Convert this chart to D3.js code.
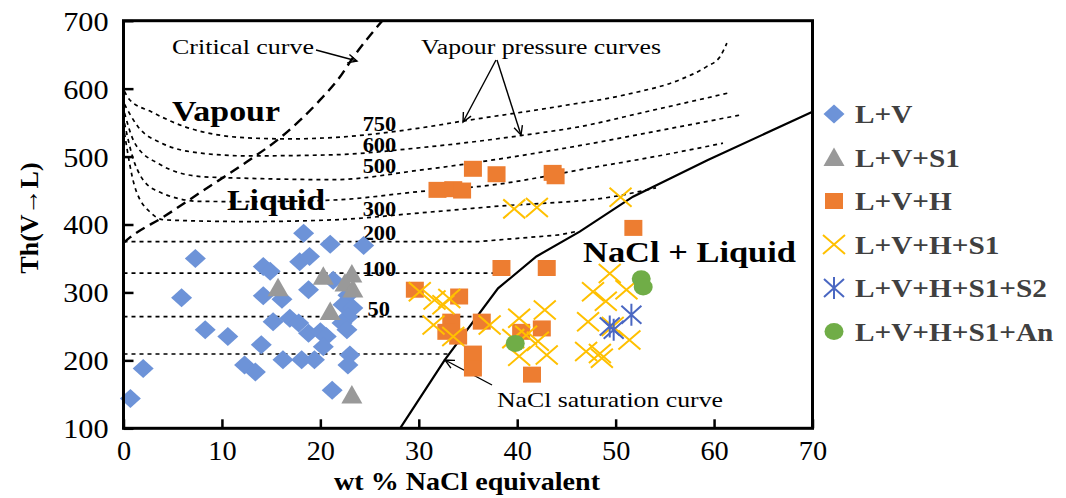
<!DOCTYPE html>
<html><head><meta charset="utf-8">
<script src="https://cdn.jsdelivr.net/npm/d3@7/dist/d3.min.js"></script>
<style>body{margin:0;background:#fff}svg{display:block}</style>
</head><body>
<svg id="c" width="1066" height="498"></svg>
<script>
// ---------- data ----------
const xTicks = [0,10,20,30,40,50,60,70];
const yTicks = [100,200,300,400,500,600,700];
const seriesNames = ["L+V","L+V+S1","L+V+H","L+V+H+S1","L+V+H+S1+S2","L+V+H+S1+An"];

const lv = [[18.3,387],[21.0,371],[24.4,369],[7.3,350],[17.9,345],[18.9,353],[14.2,338],[14.9,331],[21.3,318],[5.9,292],[18.8,304],[14.2,295],[16.1,290],[22.8,296],[22.3,282],[23.3,277],[22.8,264],[22.2,255],[15.2,257],[16.9,262],[17.8,255],[8.3,245],[10.6,235],[18.8,240],[20.0,242],[20.6,235],[22.7,245],[14.0,223],[20.3,220],[2.0,188],[12.3,193],[13.4,183],[16.2,201],[18.1,201],[19.4,201],[23.0,208],[22.8,193],[0.7,144],[21.2,156]];
const lvs1 = [[15.7,307],[20.3,324],[23.2,327],[22.5,314],[23.3,305],[21.0,272],[23.2,149]];
const lvh = [[35.5,482],[37.9,474],[31.9,451],[33.5,452],[34.4,450],[43.6,476],[43.9,471],[51.8,395],[38.4,336],[43.0,336],[29.6,304],[34.1,294],[33.3,257],[32.8,242],[34.0,235],[36.4,257],[40.4,242],[42.5,247],[35.5,210],[35.5,188],[41.5,179]];
const lvhs1 = [[39.7,423],[42.0,425],[50.5,440],[30.1,301],[31.6,289],[32.5,282],[33.1,291],[31.5,252],[33.5,235],[37.2,252],[40.2,262],[42.8,274],[39.6,232],[40.9,237],[42.1,228],[40.2,206],[43.0,208],[47.7,301],[49.4,328],[51.1,304],[49.0,287],[47.2,257],[51.4,230],[47.0,213],[48.4,210],[48.6,203],[49.7,250]];
const lvhs1s2 = [[49.4,250],[49.8,245],[51.6,267]];
const lvhs1an = [[39.8,225],[52.6,320],[52.8,308]];

const criticalCurve = [[0,373],[0.66,381],[4.04,411],[8.1,450],[12.5,492],[16.2,531],[19.95,583],[21.98,617],[23.33,646],[26.3,700]];
const saturationCurve = [[28.1,100],[32.64,200.6],[38.05,306],[41.95,353],[46.35,389.5],[51.76,441],[59.37,495],[70,566]];
const vp750 = [[0.1,596],[0.6,584],[2.82,566],[6.21,544],[9.59,532],[12.64,527.5],[17,526],[21.27,528],[30.1,542],[34.16,551.5],[44.3,574],[51.3,592],[56.5,613],[59.2,632],[60.6,647],[61.3,667]];
const vp600 = [[0.1,577],[1.47,544],[3.84,520],[7.9,505],[12.64,501],[21.27,502.6],[30.1,513],[40.93,532],[46.35,544],[53.1,566],[61.4,593.4]];
const vp500 = [[0.1,564],[1.14,520],[3.5,490],[7.9,470.5],[12.64,468],[21.27,466],[30.1,480],[37.54,495],[47.7,519.7],[54.8,539.3],[62.76,561.4]];
const vp400 = [[0.1,549],[1.14,490],[3.17,451],[7.9,434],[12.64,433.7],[21.27,436],[30.1,448.5],[37.54,458.3],[47.7,484],[54.0,500],[60.9,519.7]];
const vp300 = [[0.1,534.5],[1.14,456],[2.82,416.6],[4.18,406.8],[12.64,404.3],[21.27,406.8],[30.1,417],[37.54,426.4],[49.73,441],[54.1,454]];
const vp200 = [[0,374.8],[36,374.8],[44.3,384.7],[46.1,390]];
const vp100 = [[0,328.3],[38.6,328.3]];
const vp50 = [[0,264.4],[35.9,264.4]];
const vp25 = [[0,209.4],[33,209.4]];
const curveLabels = ["750","600","500","300","200","100","50"];
const curveLabelPos = [[24.3,538],[24.3,507],[24.3,476],[24.3,413],[24.3,377],[24.3,324],[24.8,265.5]];

// ---------- layout ----------
const svg = d3.select("#c");
const x = d3.scaleLinear().domain([0,70]).range([123.5,812.5]);
const y = d3.scaleLinear().domain([100,700]).range([428.3,20.7]);
const serif = "'Liberation Serif','Times New Roman',serif";

function stretch(sel,f){ sel.each(function(){ const w=this.getComputedTextLength(); this.setAttribute("textLength",w*f); this.setAttribute("lengthAdjust","spacingAndGlyphs"); }); }

const line = d3.line().x(d=>x(d[0])).y(d=>y(d[1]));
const smooth = d3.line().x(d=>x(d[0])).y(d=>y(d[1])).curve(d3.curveMonotoneX);

const clip = svg.append("clipPath").attr("id","pc").append("rect")
  .attr("x",x(0)).attr("y",y(700)).attr("width",x(70)-x(0)).attr("height",y(100)-y(700));
const g = svg.append("g").attr("clip-path","url(#pc)");

// vapour pressure curves
[vp750,vp600,vp500,vp400,vp300].forEach(c=>{
  g.append("path").attr("d",smooth(c)).attr("fill","none").attr("stroke","#000").attr("stroke-width",1.7).attr("stroke-dasharray","4,4");
});
[vp200,vp100,vp50,vp25].forEach(c=>{
  g.append("path").attr("d",line(c)).attr("fill","none").attr("stroke","#000").attr("stroke-width",1.7).attr("stroke-dasharray","4,4");
});
// critical curve
g.append("path").attr("d",smooth(criticalCurve)).attr("fill","none").attr("stroke","#000").attr("stroke-width",2.4).attr("stroke-dasharray","10,6");
// saturation curve
g.append("path").attr("d",line(saturationCurve)).attr("fill","none").attr("stroke","#000").attr("stroke-width",2.2);

// curve labels
svg.selectAll(".cl").data(curveLabels).enter().append("text")
  .attr("x",(d,i)=>x(curveLabelPos[i][0])).attr("y",(d,i)=>y(curveLabelPos[i][1]))
  .attr("font-family",serif).attr("font-weight","bold").attr("font-size",20).text(d=>d)
  .call(stretch,1.12);

// region labels
function label(t,xx,yy,size,bold,w){
  const e = svg.append("text").attr("x",xx).attr("y",yy).attr("font-family",serif)
    .attr("font-size",size).attr("font-weight",bold?"bold":"normal").text(t);
  if(w) e.attr("textLength",w).attr("lengthAdjust","spacingAndGlyphs");
  return e;
}
label("Vapour",172,121,30,true,108);
label("Liquid",227,210,30,true,98);
label("NaCl + Liquid",583,262,30,true,213);
label("Critical curve",172,54,20,false,142);
label("Vapour pressure curves",421,54,20,false,240);
label("NaCl saturation curve",497,407,21,false,226);

// arrows
function arrow(x1,y1,x2,y2){
  svg.append("line").attr("x1",x1).attr("y1",y1).attr("x2",x2).attr("y2",y2).attr("stroke","#000").attr("stroke-width",1.4);
  const a=Math.atan2(y2-y1,x2-x1), L=10, s=0.45;
  const p = `M${x2-L*Math.cos(a-s)},${y2-L*Math.sin(a-s)}L${x2},${y2}L${x2-L*Math.cos(a+s)},${y2-L*Math.sin(a+s)}`;
  svg.append("path").attr("d",p).attr("fill","none").attr("stroke","#000").attr("stroke-width",1.4);
}
arrow(316,50,357,61);
arrow(496,60,463,122);
arrow(497,60,521,135);
arrow(492,385,445,360);

// ---------- markers ----------
const col = {lv:"#6d93d8", s1:"#999999", h:"#ed7d31", hs1:"#ffc000", s2:"#4a67c2", an:"#70ad47"};
const diamond = "M0,-9.5L10.5,0L0,9.5L-10.5,0Z";
const tri = "M0,-10L10.5,8.5L-10.5,8.5Z";
const sq = "M-9,-8H9V8H-9Z";
const xs = "M-11,-9.5L11,9.5M-11,9.5L11,-9.5";
const ast = "M-10,-9L10,9M-10,9L10,-9M0,-11V11";
function pts(data,path,fill,stroke){
  svg.append("g").selectAll("path").data(data).enter().append("path")
    .attr("transform",d=>`translate(${x(d[0])},${y(d[1])})`).attr("d",path)
    .attr("fill",fill||"none").attr("stroke",stroke||"none").attr("stroke-width",stroke?2:0);
}
pts(lv,diamond,col.lv);
pts(lvs1,tri,col.s1);
pts(lvh,sq,col.h);
pts(lvhs1,xs,null,col.hs1);
pts(lvhs1s2,ast,null,col.s2);
svg.append("g").selectAll("ellipse").data(lvhs1an).enter().append("ellipse")
  .attr("cx",d=>x(d[0])).attr("cy",d=>y(d[1])).attr("rx",9.5).attr("ry",8.5).attr("fill",col.an);

// ---------- axes / frame ----------
svg.append("rect").attr("x",x(0)).attr("y",y(700)).attr("width",x(70)-x(0)).attr("height",y(100)-y(700))
  .attr("fill","none").attr("stroke","#000").attr("stroke-width",3);
const xa = svg.append("g").attr("transform",`translate(0,${y(100)})`)
  .call(d3.axisBottom(x).tickValues(xTicks).tickSizeInner(-9).tickSizeOuter(0).tickPadding(13));
const ya = svg.append("g").attr("transform",`translate(${x(0)},0)`)
  .call(d3.axisLeft(y).tickValues(yTicks).tickSizeInner(-10).tickSizeOuter(0).tickPadding(15));
[xa,ya].forEach(a=>{
  a.select(".domain").remove();
  a.selectAll(".tick line").attr("stroke","#000").attr("stroke-width",2.5);
  a.selectAll(".tick text").attr("font-family",serif).attr("font-size",27).attr("fill","#000");
});
xa.selectAll(".tick text").attr("dy","0.71em").call(stretch,1.05);
ya.selectAll(".tick text").attr("dy","0.35em").call(stretch,1.12);

svg.append("text").attr("x",467).attr("y",490).attr("text-anchor","middle").attr("font-family",serif)
  .attr("font-weight","bold").attr("font-size",26).text("wt % NaCl equivalent").call(stretch,1.08);
svg.append("text").attr("transform","translate(38,218) rotate(-90)").attr("text-anchor","middle").attr("font-family",serif)
  .attr("font-weight","bold").attr("font-size",26).text("Th(V\u2192L)");

// ---------- legend ----------
const legShapes = [diamond,tri,sq,xs,ast,null];
const legFill = [col.lv,col.s1,col.h,null,null,col.an];
const legStroke = [null,null,null,col.hs1,col.s2,null];
const lg = svg.append("g");
seriesNames.forEach((n,i)=>{
  const cy = 114 + i*43.5;
  if(legShapes[i]){
    lg.append("path").attr("transform",`translate(834,${cy})`).attr("d",legShapes[i])
      .attr("fill",legFill[i]||"none").attr("stroke",legStroke[i]||"none").attr("stroke-width",legStroke[i]?2:0);
  } else {
    lg.append("ellipse").attr("cx",834).attr("cy",cy).attr("rx",9.5).attr("ry",8.5).attr("fill",col.an);
  }
  lg.append("text").attr("x",855).attr("y",cy+9).attr("font-family",serif).attr("font-weight","bold")
    .attr("font-size",25).attr("fill","#404040").text(n).call(stretch,1.17);
});
</script>
</body></html>
